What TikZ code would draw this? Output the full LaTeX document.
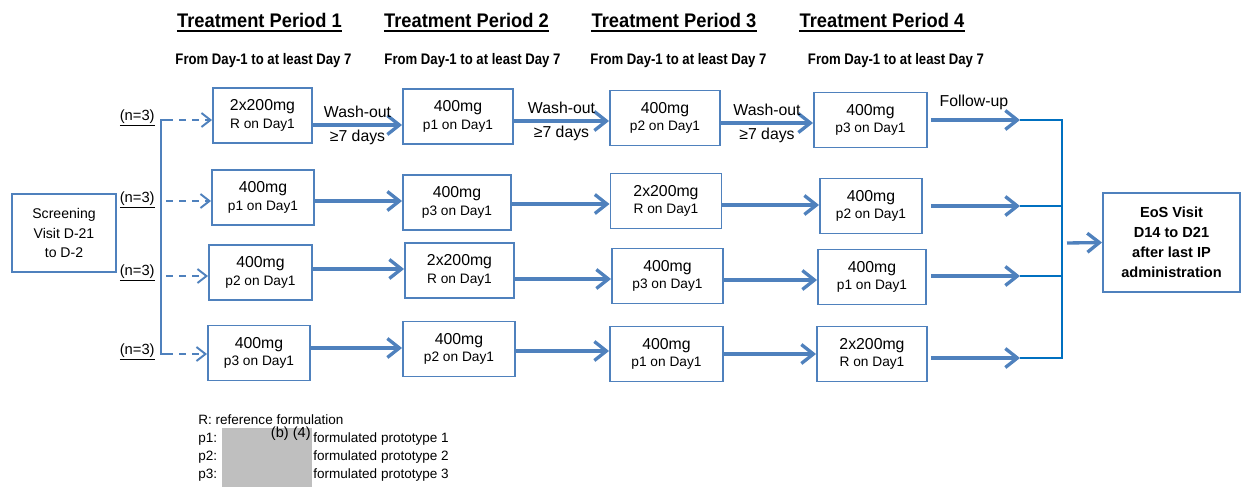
\documentclass[tikz,border=0pt]{standalone}
\usepackage{fontspec}
\setmainfont{Liberation Sans}
\newfontfamily\headfont[FakeStretch=0.93]{Liberation Sans Bold}
\newfontfamily\subfont[FakeStretch=0.86]{Liberation Sans Bold}
\usetikzlibrary{arrows.meta}

\definecolor{boxblue}{RGB}{79,129,189}
\definecolor{barblue}{RGB}{0,112,192}
\definecolor{redact}{RGB}{191,191,191}

\begin{document}
\begin{tikzpicture}[x=0.02cm,y=-0.02cm]


%% All positions are given in pixels of the 1241x487 layout, y runs downwards
%% Box widths are in the same pixel units, the height is shared by all dose boxes
%% Arrows run at their own row height, so they are cut with ``|-'' against the box sides

\def\TikZBoxHeight{55}
\def\TikZDose#1#2{{\fontsize{9}{10}\selectfont #1}\\#2 on Day1}

\tikzset{
  dosebox/.style={draw=boxblue, line width=1.1pt, minimum width=#1*0.02cm,
    minimum height=\TikZBoxHeight*0.02cm, inner sep=0pt, align=center,
    font=\fontsize{7.8}{10}\selectfont},
  visitbox/.style={draw=boxblue, line width=1.1pt, inner sep=0pt, align=center},
  flowarrow/.style={boxblue, line width=1.9pt, -{Straight Barb[length=2.4mm,width=3.8mm]}},
  dasharrow/.style={boxblue, line width=1.1pt, dash pattern=on 4pt off 3.4pt,
    -{Straight Barb[length=1.8mm,width=2.8mm]}},
  branchline/.style={boxblue, line width=1.3pt},
  mergeline/.style={barblue, line width=1.3pt},
  heading/.style={font=\headfont\fontsize{11.2}{13}\selectfont, inner sep=0pt, anchor=base},
  period/.style={font=\subfont\fontsize{8.7}{10}\selectfont, inner sep=0pt, anchor=base},
  groupsize/.style={font=\fontsize{8.4}{10}\selectfont, inner sep=0pt, anchor=east},
  washtop/.style={font=\fontsize{9}{10}\selectfont, text=black, above=3pt, inner sep=0pt},
  washbot/.style={font=\fontsize{9}{10}\selectfont, text=black, below=1.8pt, inner sep=0pt},
  legend/.style={font=\fontsize{7.7}{9}\selectfont, inner sep=0pt, anchor=base west}
}

%% Headings

\node[heading] (h1) at (259.5,27) {Treatment Period 1};
\node[heading] (h2) at (466.5,27) {Treatment Period 2};
\node[heading] (h3) at (674,27) {Treatment Period 3};
\node[heading] (h4) at (882,27) {Treatment Period 4};

\foreach \h in {h1,h2,h3,h4}
  \draw[line width=1.3pt] ([yshift=-0.08cm]\h.base west) -- ([yshift=-0.08cm]\h.base east);

\node[period] (d1) at (263.5,64) {From Day-1 to at least Day 7};
\node[period] (d2) at (472.5,64) {From Day-1 to at least Day 7};
\node[period] (d3) at (678.5,64) {From Day-1 to at least Day 7};
\node[period] (d4) at (896,64) {From Day-1 to at least Day 7};

%% Visits

\node[visitbox, minimum width=104*0.02cm, minimum height=78*0.02cm,
  font=\fontsize{8}{11.3}\selectfont] (screen) at (64,233) {Screening\\Visit D-21\\to D-2};
\node[visitbox, minimum width=137*0.02cm, minimum height=99*0.02cm,
  font=\fontsize{8.3}{11.3}\selectfont\bfseries] (eos) at (1171.5,242.5)
  {EoS Visit\\D14 to D21\\after last IP\\administration};

%% Dose boxes, one row per sequence

\node[dosebox=99]  (r1p1) at (262.5,115.5) {\TikZDose{2x200mg}{R}};
\node[dosebox=110] (r1p2) at (458,116.5)   {\TikZDose{400mg}{p1}};
\node[dosebox=110] (r1p3) at (665,118)     {\TikZDose{400mg}{p2}};
\node[dosebox=113] (r1p4) at (870.5,120)   {\TikZDose{400mg}{p3}};

\node[dosebox=102] (r2p1) at (263,197.5)   {\TikZDose{400mg}{p1}};
\node[dosebox=108] (r2p2) at (457,202.5)   {\TikZDose{400mg}{p3}};
\node[dosebox=111] (r2p3) at (666,201)     {\TikZDose{2x200mg}{R}};
\node[dosebox=102] (r2p4) at (871,206)     {\TikZDose{400mg}{p2}};

\node[dosebox=103] (r3p1) at (260.5,272.5) {\TikZDose{400mg}{p2}};
\node[dosebox=109] (r3p2) at (459.5,270.5) {\TikZDose{2x200mg}{R}};
\node[dosebox=111] (r3p3) at (667.5,276)   {\TikZDose{400mg}{p3}};
\node[dosebox=108] (r3p4) at (872,277)     {\TikZDose{400mg}{p1}};

\node[dosebox=102] (r4p1) at (259,353)     {\TikZDose{400mg}{p3}};
\node[dosebox=112] (r4p2) at (459,349)     {\TikZDose{400mg}{p2}};
\node[dosebox=113] (r4p3) at (666.5,354)   {\TikZDose{400mg}{p1}};
\node[dosebox=110] (r4p4) at (872,354)     {\TikZDose{2x200mg}{R}};

%% Randomisation into the four sequences

\coordinate (sp1) at (161,120);
\coordinate (sp2) at (161,201);
\coordinate (sp3) at (161,276);
\coordinate (sp4) at (161,354);

\draw[branchline] ([xshift=0.1cm]sp1) -- (sp1) -- (sp4) -- ([xshift=0.1cm]sp4);

\draw[dasharrow] ([xshift=0.1cm]sp1) -- (r1p1.west |- sp1);
\draw[dasharrow] ([xshift=0.1cm]sp2) -- (r2p1.west |- sp2);
\draw[dasharrow] ([xshift=0.1cm]sp3) -- (r3p1.west |- sp3);
\draw[dasharrow] ([xshift=0.1cm]sp4) -- (r4p1.west |- sp4);

\node[groupsize] (n1) at (155,118) {\underline{(n=3)}};
\node[groupsize] (n2) at (155,200) {\underline{(n=3)}};
\node[groupsize] (n3) at (155,273) {\underline{(n=3)}};
\node[groupsize] (n4) at (155,352) {\underline{(n=3)}};

%% Period to period

\draw[flowarrow] (r1p1.east |- 0,125) -- node[washtop] {Wash-out} node[washbot] {≥7 days} (r1p2.west |- 0,125);
\draw[flowarrow] (r1p2.east |- 0,121) -- node[washtop] {Wash-out} node[washbot] {≥7 days} (r1p3.west |- 0,121);
\draw[flowarrow] (r1p3.east |- 0,123) -- node[washtop] {Wash-out} node[washbot] {≥7 days} (r1p4.west |- 0,123);

\draw[flowarrow] (r2p1.east |- 0,201) -- (r2p2.west |- 0,201);
\draw[flowarrow] (r2p2.east |- 0,204) -- (r2p3.west |- 0,204);
\draw[flowarrow] (r2p3.east |- 0,205) -- (r2p4.west |- 0,205);

\draw[flowarrow] (r3p1.east |- 0,269) -- (r3p2.west |- 0,269);
\draw[flowarrow] (r3p2.east |- 0,279) -- (r3p3.west |- 0,279);
\draw[flowarrow] (r3p3.east |- 0,280) -- (r3p4.west |- 0,280);

\draw[flowarrow] (r4p1.east |- 0,348) -- (r4p2.west |- 0,348);
\draw[flowarrow] (r4p2.east |- 0,351) -- (r4p3.west |- 0,351);
\draw[flowarrow] (r4p3.east |- 0,354) -- (r4p4.west |- 0,354);

%% Follow-up and end of study

\coordinate (fu1) at (1020,120);
\coordinate (fu2) at (1020,206);
\coordinate (fu3) at (1020,276);
\coordinate (fu4) at (1020,358);
\coordinate (bartop) at (1062,120);
\coordinate (barbot) at (1062,359);
\coordinate (merge) at (1067,243);

\draw[flowarrow, shorten <=0.06cm] (r1p4.east |- fu1) -- node[washtop, above=2pt] {Follow-up} (fu1);
\draw[flowarrow, shorten <=0.16cm] (r2p4.east |- fu2) -- (fu2);
\draw[flowarrow, shorten <=0.08cm] (r3p4.east |- fu3) -- (fu3);
\draw[flowarrow, shorten <=0.06cm] (r4p4.east |- fu4) -- (fu4);

\draw[mergeline] (fu1) -- (bartop) -- (barbot);
\draw[mergeline] (fu2) -- (fu2 -| bartop);
\draw[mergeline] (fu3) -- (fu3 -| bartop);
\draw[mergeline] (fu4) -- (fu4 -| bartop);

\draw[flowarrow] (merge) -- (eos.west);

%% Legend

\fill[redact] (222,428) rectangle (312,487);

\node[legend] (legr)  at (198,424) {R: reference formulation};
\node[legend] (legp1) at (198,442) {p1:};
\node[legend] (legp2) at (198,460) {p2:};
\node[legend] (legp3) at (198,478) {p3:};
\node[legend, anchor=base east, font=\fontsize{8.3}{9}\selectfont] (redtag) at (311,437) {(b) (4)};
\node[legend] (legf1) at (313,442) {formulated prototype 1};
\node[legend] (legf2) at (313,460) {formulated prototype 2};
\node[legend] (legf3) at (313,478) {formulated prototype 3};

\useasboundingbox (0,0) rectangle (1241,487);

\end{tikzpicture}
\end{document}
